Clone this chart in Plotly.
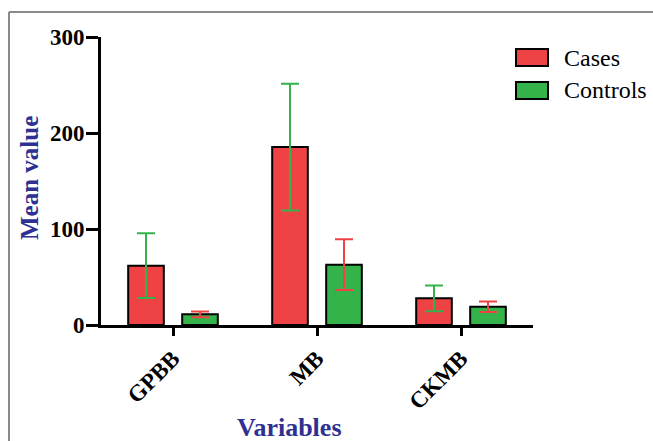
import plotly.graph_objects as go

categories = ["GPBB", "MB", "CKMB"]
series_names = ["Cases", "Controls"]
cases_mean = [61.8, 185.4, 27.8]
cases_err = [33.7, 66.0, 13.4]
controls_mean = [11.1, 62.8, 19.0]
controls_err = [3.0, 26.4, 5.5]
y_ticks = [0, 100, 200, 300]

RED = "#EE4245"
GREEN = "#34B34A"
NAVY = "#2E3192"
FONT = "Liberation Serif, Times New Roman, serif"

W, H = 653, 441
L, R, T, B = 101, 120, 37, 116
pw, ph = W - L - R, H - T - B

def px(x):
    return (x - L) / pw

def py(y):
    return (H - B - y) / ph

fig = go.Figure()
fig.add_trace(go.Bar(
    x=categories, y=cases_mean, name=series_names[0],
    marker=dict(color=RED, line=dict(color="black", width=2)),
    error_y=dict(type="data", array=cases_err, visible=True, color=GREEN, thickness=2, width=9),
    showlegend=False,
))
fig.add_trace(go.Bar(
    x=categories, y=controls_mean, name=series_names[1],
    marker=dict(color=GREEN, line=dict(color="black", width=2)),
    error_y=dict(type="data", array=controls_err, visible=True, color=RED, thickness=2, width=9),
    showlegend=False,
))

shapes = [
    # gray frame
    dict(type="line", xref="paper", yref="paper", x0=px(9), x1=px(653), y0=py(12), y1=py(12),
         line=dict(color="#8a8a8a", width=2)),
    dict(type="line", xref="paper", yref="paper", x0=px(9), x1=px(9), y0=py(12), y1=py(441),
         line=dict(color="#8a8a8a", width=2)),
    # legend boxes
    dict(type="rect", xref="paper", yref="paper", x0=px(516), x1=px(548), y0=py(49), y1=py(66),
         fillcolor=RED, line=dict(color="black", width=2)),
    dict(type="rect", xref="paper", yref="paper", x0=px(516), x1=px(548), y0=py(82), y1=py(99),
         fillcolor=GREEN, line=dict(color="black", width=2)),
]

annotations = [
    dict(text=series_names[0], xref="paper", yref="paper", x=px(562), y=py(57.5), xanchor="left",
         yanchor="middle", showarrow=False, font=dict(family=FONT, size=24, color="black")),
    dict(text=series_names[1], xref="paper", yref="paper", x=px(562), y=py(90.5), xanchor="left",
         yanchor="middle", showarrow=False, font=dict(family=FONT, size=24, color="black")),
    dict(text="Mean value", xref="paper", yref="paper", x=px(29), y=py(178), textangle=-90,
         xanchor="center", yanchor="middle", showarrow=False,
         font=dict(family=FONT, size=25, color=NAVY, weight="bold")),
    dict(text="Variables", xref="paper", yref="paper", x=px(289), y=py(427),
         xanchor="center", yanchor="middle", showarrow=False,
         font=dict(family=FONT, size=26, color=NAVY, weight="bold")),
]

fig.update_layout(
    width=W, height=H,
    margin=dict(l=L, r=R, t=T, b=B, pad=0),
    paper_bgcolor="white", plot_bgcolor="white",
    barmode="group", bargap=0.25, bargroupgap=0.34,
    shapes=shapes, annotations=annotations,
    showlegend=False,
)
fig.update_xaxes(
    range=[-0.5, 2.5], showline=True, linecolor="black", linewidth=3,
    ticks="outside", ticklen=8, tickwidth=3, tickcolor="black",
    tickangle=-45, tickfont=dict(family=FONT, size=23, color="black", weight="bold"),
    showgrid=False, zeroline=False,
)
fig.update_yaxes(
    range=[0, 300], tickvals=y_ticks, showline=True, linecolor="black", linewidth=3,
    ticks="outside", ticklen=12, tickwidth=3, tickcolor="black", ticklabelstandoff=-3,
    tickfont=dict(family=FONT, size=23, color="black", weight="bold"),
    showgrid=False, zeroline=False,
)

fig.write_html("out.html")
